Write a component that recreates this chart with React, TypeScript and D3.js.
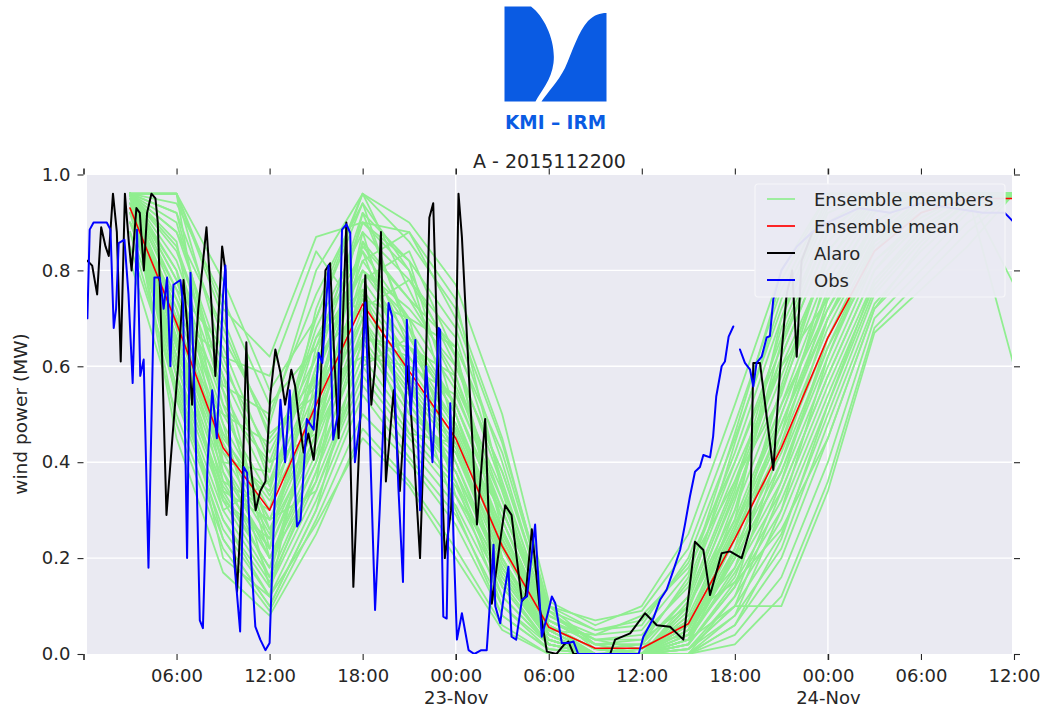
import { useEffect, useRef } from "react";
import * as d3 from "d3";

// hours since 22-Nov-2015 00:00 UTC
const T0 = Date.UTC(2015, 10, 22, 0);
const hr = (h: number) => new Date(T0 + h * 3600e3);

const ensembleHours = [3, 6, 9, 12, 15, 18, 21, 24, 27, 30, 33, 36, 39, 42, 45, 48, 51, 54, 57, 60];

const ensembleMean = [0.93, 0.69, 0.43, 0.3, 0.52, 0.73, 0.59, 0.45, 0.225, 0.056, 0.012, 0.012, 0.063, 0.24, 0.43, 0.66, 0.84, 0.92, 0.95, 0.95];

const ensembleMembers = [
  [0.96, 0.96, 0.78, 0.55, 0.7, 0.96, 0.9, 0.77, 0.5, 0.11, 0.06, 0.1, 0.25, 0.52, 0.8, 0.96, 0.96, 0.96, 0.96, 0.96],
  [0.96, 0.96, 0.72, 0.62, 0.87, 0.9, 0.8, 0.6, 0.38, 0.1, 0.07, 0.09, 0.22, 0.48, 0.76, 0.95, 0.96, 0.96, 0.96, 0.96],
  [0.96, 0.92, 0.66, 0.48, 0.8, 0.96, 0.86, 0.72, 0.45, 0.09, 0.05, 0.06, 0.2, 0.45, 0.72, 0.93, 0.96, 0.96, 0.96, 0.6],
  [0.96, 0.88, 0.6, 0.42, 0.62, 0.92, 0.82, 0.68, 0.4, 0.08, 0.04, 0.05, 0.17, 0.42, 0.7, 0.92, 0.96, 0.96, 0.96, 0.96],
  [0.96, 0.85, 0.58, 0.38, 0.68, 0.88, 0.78, 0.62, 0.35, 0.08, 0.03, 0.03, 0.15, 0.4, 0.66, 0.9, 0.96, 0.96, 0.96, 0.77],
  [0.96, 0.82, 0.55, 0.35, 0.58, 0.85, 0.74, 0.58, 0.32, 0.07, 0.02, 0.02, 0.12, 0.36, 0.62, 0.86, 0.96, 0.96, 0.96, 0.96],
  [0.95, 0.8, 0.52, 0.4, 0.66, 0.84, 0.7, 0.55, 0.3, 0.07, 0.02, 0, 0.1, 0.33, 0.58, 0.82, 0.95, 0.96, 0.96, 0.96],
  [0.96, 0.78, 0.5, 0.33, 0.55, 0.82, 0.68, 0.52, 0.28, 0.06, 0.01, 0, 0.1, 0.3, 0.55, 0.8, 0.94, 0.96, 0.96, 0.96],
  [0.94, 0.76, 0.48, 0.3, 0.6, 0.8, 0.66, 0.5, 0.26, 0.06, 0.01, 0, 0.08, 0.28, 0.52, 0.78, 0.93, 0.96, 0.96, 0.96],
  [0.96, 0.74, 0.46, 0.28, 0.52, 0.78, 0.64, 0.48, 0.25, 0.06, 0, 0, 0.07, 0.27, 0.5, 0.75, 0.92, 0.96, 0.96, 0.96],
  [0.92, 0.72, 0.45, 0.32, 0.5, 0.76, 0.62, 0.47, 0.24, 0.05, 0, 0, 0.07, 0.26, 0.48, 0.72, 0.9, 0.96, 0.96, 0.96],
  [0.96, 0.7, 0.44, 0.26, 0.48, 0.75, 0.6, 0.46, 0.23, 0.05, 0, 0, 0.06, 0.25, 0.46, 0.7, 0.88, 0.96, 0.96, 0.96],
  [0.96, 0.68, 0.42, 0.25, 0.54, 0.74, 0.58, 0.45, 0.22, 0.05, 0, 0, 0.05, 0.24, 0.44, 0.68, 0.87, 0.95, 0.96, 0.96],
  [0.9, 0.66, 0.4, 0.24, 0.46, 0.72, 0.57, 0.44, 0.2, 0.04, 0, 0, 0.05, 0.22, 0.42, 0.66, 0.86, 0.94, 0.96, 0.96],
  [0.96, 0.65, 0.38, 0.22, 0.44, 0.7, 0.56, 0.43, 0.2, 0.04, 0, 0, 0.04, 0.21, 0.4, 0.64, 0.85, 0.93, 0.96, 0.96],
  [0.96, 0.64, 0.36, 0.2, 0.42, 0.68, 0.55, 0.42, 0.19, 0.04, 0, 0, 0.04, 0.2, 0.38, 0.62, 0.84, 0.92, 0.96, 0.96],
  [0.88, 0.62, 0.34, 0.28, 0.48, 0.66, 0.52, 0.4, 0.18, 0.03, 0, 0, 0.03, 0.18, 0.36, 0.6, 0.82, 0.91, 0.96, 0.96],
  [0.96, 0.6, 0.33, 0.18, 0.4, 0.65, 0.5, 0.38, 0.17, 0.03, 0, 0, 0.03, 0.17, 0.34, 0.58, 0.8, 0.9, 0.96, 0.96],
  [0.96, 0.58, 0.32, 0.16, 0.38, 0.62, 0.48, 0.36, 0.16, 0.03, 0, 0, 0.02, 0.15, 0.32, 0.56, 0.78, 0.89, 0.95, 0.96],
  [0.85, 0.56, 0.3, 0.15, 0.36, 0.6, 0.46, 0.35, 0.15, 0.02, 0, 0, 0.02, 0.14, 0.3, 0.54, 0.77, 0.88, 0.95, 0.96],
  [0.96, 0.55, 0.28, 0.14, 0.34, 0.58, 0.45, 0.33, 0.14, 0.02, 0, 0, 0.01, 0.12, 0.28, 0.52, 0.76, 0.87, 0.94, 0.96],
  [0.96, 0.53, 0.26, 0.12, 0.32, 0.56, 0.43, 0.31, 0.12, 0.02, 0, 0, 0.01, 0.1, 0.25, 0.5, 0.75, 0.86, 0.94, 0.96],
  [0.82, 0.5, 0.24, 0.1, 0.3, 0.54, 0.41, 0.29, 0.1, 0.01, 0, 0, 0, 0.08, 0.22, 0.48, 0.73, 0.84, 0.93, 0.96],
  [0.96, 0.48, 0.22, 0.09, 0.28, 0.5, 0.4, 0.27, 0.08, 0.01, 0, 0, 0, 0.06, 0.2, 0.45, 0.72, 0.82, 0.92, 0.96],
  [0.96, 0.45, 0.17, 0.08, 0.25, 0.47, 0.36, 0.22, 0.06, 0, 0, 0, 0, 0.04, 0.16, 0.4, 0.7, 0.8, 0.9, 0.96],
  [0.94, 0.62, 0.2, 0.12, 0.27, 0.45, 0.35, 0.2, 0.05, 0, 0, 0, 0, 0.02, 0.12, 0.36, 0.68, 0.78, 0.88, 0.96],
  [0.96, 0.9, 0.56, 0.5, 0.75, 0.94, 0.66, 0.52, 0.3, 0.07, 0.03, 0.04, 0.14, 0.38, 0.6, 0.74, 0.9, 0.96, 0.96, 0.96],
  [0.96, 0.7, 0.62, 0.58, 0.84, 0.7, 0.52, 0.38, 0.12, 0.02, 0, 0, 0.03, 0.1, 0.1, 0.34, 0.67, 0.76, 0.85, 0.96],
  [0.96, 0.96, 0.4, 0.2, 0.36, 0.86, 0.74, 0.64, 0.2, 0.03, 0, 0, 0.05, 0.3, 0.65, 0.88, 0.96, 0.96, 0.96, 0.96],
  [0.92, 0.58, 0.35, 0.22, 0.64, 0.8, 0.7, 0.33, 0.18, 0.04, 0, 0, 0.08, 0.15, 0.26, 0.45, 0.72, 0.85, 0.95, 0.96],
  [0.96, 0.96, 0.7, 0.45, 0.58, 0.82, 0.88, 0.7, 0.44, 0.1, 0.02, 0.03, 0.1, 0.28, 0.7, 0.96, 0.96, 0.96, 0.96, 0.96],
  [0.96, 0.8, 0.36, 0.3, 0.72, 0.96, 0.76, 0.56, 0.34, 0.06, 0, 0.01, 0.12, 0.44, 0.74, 0.94, 0.96, 0.96, 0.96, 0.96],
  [0.9, 0.74, 0.55, 0.2, 0.4, 0.78, 0.84, 0.62, 0.26, 0.05, 0.04, 0.08, 0.18, 0.36, 0.54, 0.84, 0.96, 0.96, 0.96, 0.96],
  [0.96, 0.6, 0.5, 0.44, 0.56, 0.62, 0.6, 0.54, 0.32, 0.09, 0.01, 0, 0.06, 0.2, 0.5, 0.76, 0.92, 0.96, 0.96, 0.96],
  [0.96, 0.86, 0.38, 0.16, 0.52, 0.92, 0.68, 0.4, 0.16, 0.03, 0, 0, 0.09, 0.34, 0.68, 0.9, 0.96, 0.96, 0.96, 0.96],
  [0.93, 0.68, 0.3, 0.36, 0.62, 0.72, 0.78, 0.66, 0.36, 0.07, 0.02, 0.02, 0.04, 0.16, 0.4, 0.7, 0.9, 0.96, 0.96, 0.96],
  [0.96, 0.92, 0.52, 0.26, 0.44, 0.88, 0.56, 0.36, 0.1, 0.02, 0, 0, 0.02, 0.22, 0.56, 0.84, 0.95, 0.96, 0.96, 0.96],
  [0.96, 0.76, 0.64, 0.4, 0.46, 0.66, 0.64, 0.58, 0.28, 0.05, 0, 0, 0.01, 0.08, 0.3, 0.62, 0.86, 0.95, 0.96, 0.96],
  [0.88, 0.54, 0.28, 0.12, 0.58, 0.84, 0.58, 0.3, 0.08, 0.01, 0, 0, 0.03, 0.26, 0.52, 0.72, 0.88, 0.96, 0.96, 0.96],
  [0.96, 0.66, 0.42, 0.34, 0.66, 0.76, 0.5, 0.42, 0.22, 0.04, 0, 0, 0, 0.12, 0.36, 0.66, 0.84, 0.94, 0.96, 0.96],
  [0.96, 0.94, 0.74, 0.52, 0.64, 0.9, 0.82, 0.5, 0.24, 0.06, 0.01, 0.02, 0.16, 0.46, 0.78, 0.96, 0.96, 0.96, 0.96, 0.96],
  [0.95, 0.72, 0.34, 0.18, 0.5, 0.7, 0.46, 0.44, 0.3, 0.08, 0.03, 0.01, 0.07, 0.18, 0.46, 0.8, 0.94, 0.96, 0.96, 0.96],
  [0.96, 0.62, 0.46, 0.28, 0.34, 0.6, 0.66, 0.5, 0.2, 0.02, 0, 0, 0.02, 0.14, 0.44, 0.74, 0.9, 0.96, 0.96, 0.96],
  [0.96, 0.84, 0.58, 0.22, 0.46, 0.8, 0.72, 0.6, 0.38, 0.09, 0.02, 0, 0.04, 0.24, 0.48, 0.7, 0.86, 0.92, 0.96, 0.96],
  [0.92, 0.7, 0.4, 0.38, 0.7, 0.94, 0.8, 0.46, 0.14, 0.02, 0, 0, 0.06, 0.32, 0.62, 0.86, 0.96, 0.96, 0.96, 0.96],
  [0.96, 0.58, 0.24, 0.1, 0.3, 0.66, 0.62, 0.48, 0.26, 0.05, 0, 0, 0.01, 0.1, 0.34, 0.58, 0.8, 0.92, 0.96, 0.96],
  [0.96, 0.88, 0.68, 0.46, 0.54, 0.74, 0.7, 0.64, 0.42, 0.1, 0.05, 0.07, 0.19, 0.4, 0.64, 0.88, 0.96, 0.96, 0.96, 0.96],
  [0.9, 0.64, 0.32, 0.24, 0.6, 0.9, 0.88, 0.74, 0.34, 0.04, 0, 0, 0.03, 0.2, 0.38, 0.64, 0.82, 0.9, 0.96, 0.96],
  [0.96, 0.78, 0.48, 0.14, 0.38, 0.68, 0.54, 0.38, 0.18, 0.03, 0, 0, 0, 0.06, 0.24, 0.52, 0.78, 0.88, 0.95, 0.96],
  [0.96, 0.96, 0.62, 0.36, 0.52, 0.86, 0.64, 0.52, 0.28, 0.06, 0.01, 0, 0.11, 0.35, 0.6, 0.82, 0.94, 0.96, 0.96, 0.96],
];

// [hour, value]
const alaro: [number, number][] = [
  [0.25, 0.82], [0.56, 0.81], [0.88, 0.75], [1.14, 0.89], [1.42, 0.85], [1.63, 0.83], [1.9, 0.96], [2.15, 0.88],
  [2.4, 0.61], [2.67, 0.96], [2.92, 0.86], [3.1, 0.8], [3.41, 0.93], [3.63, 0.92], [3.89, 0.8], [4.1, 0.92],
  [4.38, 0.96], [4.64, 0.95], [4.79, 0.9], [5.07, 0.62], [5.35, 0.29], [5.73, 0.45], [6.1, 0.6], [6.45, 0.78],
  [6.7, 0.68], [7.0, 0.52], [7.4, 0.72], [7.93, 0.89], [8.25, 0.73], [8.5, 0.58], [8.94, 0.85], [9.15, 0.8],
  [9.4, 0.45], [9.66, 0.25], [9.9, 0.13], [10.25, 0.35], [10.5, 0.65], [10.76, 0.4], [11.1, 0.3], [11.4, 0.34],
  [11.73, 0.36], [12.05, 0.54], [12.37, 0.635], [12.7, 0.587], [13.0, 0.52], [13.4, 0.593], [13.65, 0.558],
  [13.87, 0.495], [14.2, 0.42], [14.5, 0.46], [14.84, 0.405], [15.27, 0.55], [15.6, 0.8], [15.9, 0.815],
  [16.2, 0.6], [16.45, 0.45], [16.95, 0.9], [17.15, 0.5], [17.4, 0.14], [17.8, 0.45], [18.17, 0.79],
  [18.56, 0.52], [18.8, 0.6], [19.18, 0.88], [19.5, 0.36], [20.0, 0.55], [20.4, 0.34], [20.9, 0.6],
  [21.3, 0.42], [21.7, 0.2], [22.0, 0.5], [22.3, 0.91], [22.55, 0.94], [22.9, 0.55], [23.3, 0.2], [23.7, 0.3],
  [24.0, 0.6], [24.18, 0.96], [24.4, 0.87], [24.9, 0.55], [25.37, 0.27], [25.9, 0.49], [26.33, 0.105],
  [26.8, 0.22], [27.19, 0.31], [27.6, 0.29], [28.27, 0.11], [28.5, 0.12], [28.91, 0.26], [29.4, 0.1],
  [29.88, 0.005], [30.5, 0.0], [31.0, 0.02], [31.27, 0.026], [31.6, 0.0], [33.96, 0.0], [34.28, 0.03],
  [35.25, 0.043], [36.21, 0.085], [36.97, 0.06], [37.82, 0.057], [38.68, 0.03], [39.43, 0.234], [39.97, 0.217],
  [40.4, 0.123], [41.15, 0.21], [41.69, 0.214], [42.44, 0.2], [42.98, 0.26], [43.19, 0.607], [43.62, 0.607],
  [44.48, 0.384], [44.91, 0.59], [45.34, 0.75], [45.7, 0.8], [45.99, 0.62], [46.3, 0.82], [47.0, 0.88], [48.0, 0.9],
];

// [hour, value]; null = missing
const obs: [number, number | null][] = [
  [0.25, 0.7], [0.4, 0.885], [0.65, 0.9], [1.5, 0.9], [1.74, 0.885], [1.95, 0.68], [2.1, 0.72], [2.27, 0.857],
  [2.64, 0.864], [2.9, 0.75], [3.17, 0.565], [3.45, 0.885], [3.66, 0.58], [3.88, 0.614], [4.19, 0.18],
  [4.57, 0.785], [4.92, 0.785], [5.17, 0.72], [5.39, 0.785], [5.6, 0.6], [5.8, 0.77], [6.25, 0.78],
  [6.42, 0.73], [6.68, 0.2], [6.9, 0.795], [7.2, 0.5], [7.5, 0.07], [7.7, 0.054], [8.0, 0.4], [8.3, 0.55],
  [8.6, 0.45], [9.0, 0.75], [9.15, 0.81], [9.4, 0.5], [9.7, 0.2], [10.1, 0.047], [10.33, 0.39], [10.55, 0.378],
  [10.8, 0.2], [11.08, 0.057], [11.4, 0.03], [11.73, 0.008], [12.0, 0.023], [12.3, 0.3], [12.7, 0.53],
  [13.0, 0.4], [13.3, 0.55], [13.77, 0.266], [14.0, 0.28], [14.4, 0.49], [14.84, 0.468], [15.16, 0.628],
  [15.4, 0.607], [15.8, 0.81], [16.1, 0.447], [16.4, 0.5], [16.67, 0.885], [16.95, 0.896], [17.2, 0.878],
  [17.5, 0.4], [17.85, 0.495], [18.17, 0.733], [18.4, 0.52], [18.8, 0.092], [19.1, 0.3], [19.67, 0.732],
  [19.9, 0.704], [20.3, 0.35], [20.6, 0.15], [20.85, 0.697], [21.1, 0.5], [21.4, 0.655], [21.7, 0.3],
  [22.1, 0.6], [22.5, 0.4], [22.9, 0.68], [23.0, 0.676], [23.1, 0.245], [23.2, 0.078], [23.42, 0.074],
  [23.65, 0.523], [23.85, 0.25], [24.08, 0.03], [24.4, 0.085], [24.83, 0.008], [25.2, 0.0], [25.65, 0.008],
  [26.0, 0.008], [26.3, 0.15], [26.44, 0.228], [26.55, 0.1], [26.87, 0.064], [27.1, 0.12], [27.4, 0.182],
  [27.6, 0.036], [27.9, 0.03], [28.27, 0.113], [28.6, 0.12], [29.12, 0.27], [29.55, 0.036], [29.9, 0.08],
  [30.2, 0.12], [30.42, 0.106], [30.84, 0.023], [31.27, 0.023], [31.6, 0.026], [31.9, 0.0], [35.8, 0.0],
  [36.1, 0.036], [36.75, 0.075], [37.18, 0.113], [37.6, 0.134], [38.04, 0.175], [38.47, 0.217], [38.8, 0.273],
  [39.1, 0.328], [39.43, 0.38], [39.75, 0.39], [39.97, 0.415], [40.4, 0.41], [40.6, 0.454], [40.8, 0.537],
  [41.15, 0.6], [41.36, 0.61], [41.6, 0.662], [41.9, 0.683], [42.1, null], [42.33, 0.635], [42.65, 0.607],
  [42.98, 0.593], [43.19, 0.558], [43.4, 0.607], [43.73, 0.62], [44.05, 0.66], [44.26, 0.663], [44.48, 0.74],
  [45.0, 0.8], [46.0, 0.85], [47.0, 0.88], [48.0, 0.9], [50.0, 0.93], [52.0, 0.92], [54.0, 0.94], [56.0, 0.93],
  [58.0, 0.92], [59.4, 0.92], [59.7, 0.91], [60.0, 0.9],
];

const xTickHours = [0, 6, 12, 18, 24, 30, 36, 42, 48, 54, 60];
const yTicks = [0, 0.2, 0.4, 0.6, 0.8, 1.0];
const gridDays = [24, 48];

const legendLabels = ["Ensemble members", "Ensemble mean", "Alaro", "Obs"];
const legendColors = ["#90ee90", "#ff0000", "#000000", "#0000ff"];

const title = "A - 2015112200";
const yLabel = "wind power (MW)";
const logoText = "KMI – IRM";

const FONT = "'DejaVu Sans', sans-serif";
const TXT = "#262626";

const App = () => {
  const svgRef = useRef<SVGSVGElement | null>(null);

  useEffect(() => {
    const svg = d3.select(svgRef.current);
    svg.selectAll("*").remove();

    const axL = 83.5, axR = 1014, axT = 174.5, axB = 654;
    const bg = { x: 87, y: 175, w: 1012 - 87, h: 654 - 175 };

    const x = d3.scaleTime().domain([hr(0), hr(60)]).range([axL, axR]);
    const y = d3.scaleLinear().domain([0, 1]).range([axB, axT]);

    // logo
    const logoBlue = "#0a5be3";
    const logo = svg.append("g");
    logo.append("path")
      .attr("d", "M504.5,6.5 L531,6.5 C545,17 556,42 553.5,63 C551.5,80 541,91 535.5,101.5 L504.5,101.5 Z")
      .attr("fill", logoBlue);
    logo.append("path")
      .attr("d", "M606.5,13 L606.5,101.5 L541.5,101.5 C547,93 558,82 565,68 C573,50 578,32 588,21 C594,15 600,13 606.5,13 Z")
      .attr("fill", logoBlue);
    logo.append("text")
      .attr("x", 505).attr("y", 129)
      .attr("font-family", FONT).attr("font-weight", "bold").attr("font-size", 20)
      .attr("textLength", 101).attr("lengthAdjust", "spacingAndGlyphs")
      .attr("fill", logoBlue)
      .text(logoText);

    // title
    svg.append("text")
      .attr("x", 549.5).attr("y", 167.5)
      .attr("text-anchor", "middle")
      .attr("font-family", FONT).attr("font-size", 19).attr("fill", TXT)
      .text(title);

    // plot background + grid
    svg.append("rect")
      .attr("x", bg.x).attr("y", bg.y).attr("width", bg.w).attr("height", bg.h)
      .attr("fill", "#eaeaf2");

    svg.append("defs").append("clipPath").attr("id", "plotclip")
      .append("rect").attr("x", bg.x).attr("y", bg.y - 2).attr("width", bg.w).attr("height", bg.h + 2);

    const grid = svg.append("g").attr("stroke", "#ffffff").attr("stroke-width", 1.4);
    grid.selectAll(".hg")
      .data(yTicks.filter((v) => v > 0 && v < 1))
      .enter().append("line")
      .attr("x1", bg.x).attr("x2", bg.x + bg.w)
      .attr("y1", (d) => y(d)).attr("y2", (d) => y(d));
    grid.selectAll(".vg")
      .data(gridDays)
      .enter().append("line")
      .attr("y1", bg.y).attr("y2", bg.y + bg.h)
      .attr("x1", (d) => x(hr(d))).attr("x2", (d) => x(hr(d)));

    // series
    const plot = svg.append("g").attr("clip-path", "url(#plotclip)")
      .attr("fill", "none").attr("stroke-linejoin", "round").attr("stroke-linecap", "round");

    const ensLine = d3.line<number>()
      .x((_, i) => x(hr(ensembleHours[i])))
      .y((v) => y(v));

    plot.selectAll(".member")
      .data(ensembleMembers)
      .enter().append("path")
      .attr("class", "member")
      .attr("d", (d) => ensLine(d))
      .attr("stroke", legendColors[0])
      .attr("stroke-width", 1.8);

    plot.append("path")
      .attr("d", ensLine(ensembleMean))
      .attr("stroke", legendColors[1])
      .attr("stroke-width", 1.6);

    const ptLine = d3.line<[number, number | null]>()
      .defined((d) => d[1] != null)
      .x((d) => x(hr(d[0])))
      .y((d) => y(d[1] as number));

    plot.append("path")
      .attr("d", ptLine(alaro))
      .attr("stroke", legendColors[2])
      .attr("stroke-width", 2);

    plot.append("path")
      .attr("d", ptLine(obs))
      .attr("stroke", legendColors[3])
      .attr("stroke-width", 2);

    // axes
    const tickVals = xTickHours.map(hr);
    const fmtMon = d3.utcFormat("%d-%b");
    const fmtHM = d3.utcFormat("%H:%M");

    const styleAxis = (g: d3.Selection<SVGGElement, unknown, null, undefined>) => {
      g.select(".domain").remove();
      g.attr("font-family", FONT).attr("font-size", 18).attr("color", TXT);
      g.selectAll<SVGLineElement, Date | number>(".tick line").attr("stroke-width", (d) =>
        d instanceof Date && d.getUTCHours() === 0 ? 1.6 : 1.1
      );
    };

    const gBottom = svg.append("g").attr("transform", `translate(0,${axB})`);
    gBottom.call(d3.axisBottom<Date>(x).tickValues(tickVals).tickSize(6).tickFormat(() => ""));
    styleAxis(gBottom);
    gBottom.selectAll<SVGTextElement, Date>(".tick text").each(function (d, i) {
      const t = d3.select(this).attr("y", 27.5).attr("dy", null);
      if (i === 0) return;
      t.append("tspan").attr("x", 0).text(fmtHM(d));
      if (d.getUTCHours() === 0) {
        t.append("tspan").attr("x", 0).attr("dy", 22.5).text(fmtMon(d));
      }
    });

    const gTop = svg.append("g").attr("transform", `translate(0,${axT})`);
    gTop.call(d3.axisTop<Date>(x).tickValues(tickVals).tickSize(6).tickFormat(() => ""));
    styleAxis(gTop);

    const gLeft = svg.append("g").attr("transform", `translate(${axL},0)`);
    gLeft.call(d3.axisLeft(y).tickValues(yTicks).tickSize(6).tickPadding(7).tickFormat(d3.format(".1f")));
    styleAxis(gLeft);

    const gRight = svg.append("g").attr("transform", `translate(${axR},0)`);
    gRight.call(d3.axisRight(y).tickValues(yTicks).tickSize(6).tickFormat(() => ""));
    styleAxis(gRight);

    // y label
    svg.append("text")
      .attr("transform", `translate(27,414) rotate(-90)`)
      .attr("text-anchor", "middle")
      .attr("font-family", FONT).attr("font-size", 18.5).attr("fill", TXT)
      .text(yLabel);

    // legend
    const lg = svg.append("g").attr("transform", "translate(755,184)");
    lg.append("rect")
      .attr("width", 250).attr("height", 113).attr("rx", 3)
      .attr("fill", "#eaeaf2").attr("fill-opacity", 0.95)
      .attr("stroke", "#f6f6f9").attr("stroke-width", 1.2);
    const rows = lg.selectAll(".row")
      .data(legendLabels)
      .enter().append("g")
      .attr("transform", (_, i) => `translate(0,${15 + i * 27})`);
    rows.append("line")
      .attr("x1", 12).attr("x2", 40)
      .attr("stroke", (_, i) => legendColors[i])
      .attr("stroke-width", (_, i) => (i < 2 ? 1.7 : 2));
    rows.append("text")
      .attr("x", 59).attr("y", 6.5)
      .attr("font-family", FONT).attr("font-size", 18).attr("fill", TXT)
      .text((d) => d);
  }, []);

  return (
    <div style={{ position: "absolute", left: 0, top: 0, background: "#fff" }}>
      <svg ref={svgRef} width={1040} height={710} />
    </div>
  );
};

export default App;
